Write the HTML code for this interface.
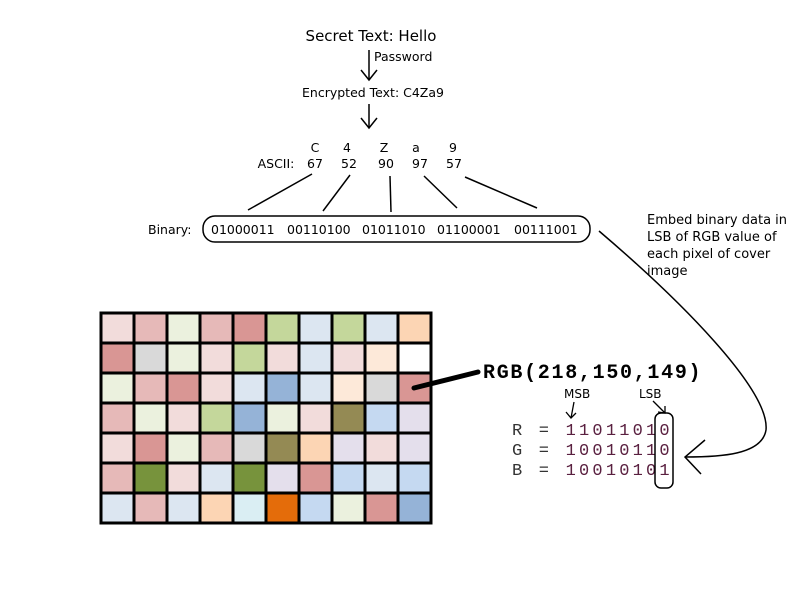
<!DOCTYPE html>
<html><head><style>body{margin:0;background:#fff}svg{display:block}</style></head><body>
<svg width="800" height="600" xmlns="http://www.w3.org/2000/svg" font-family="'DejaVu Sans',sans-serif">
<text x="371" y="41" font-size="15" text-anchor="middle">Secret Text:  Hello</text>
<text x="374" y="61" font-size="12.5">Password</text>
<line x1="369" y1="50" x2="369" y2="80" stroke="#000" stroke-width="1.5"/>
<path d="M361,70 L369,80 L377,70" fill="none" stroke="#000" stroke-width="1.5"/>
<text x="373" y="97" font-size="12.5" text-anchor="middle">Encrypted Text: C4Za9</text>
<line x1="369" y1="104" x2="369" y2="128" stroke="#000" stroke-width="1.5"/>
<path d="M361,118 L369,128 L377,118" fill="none" stroke="#000" stroke-width="1.5"/>
<g font-size="12.5" text-anchor="middle">
<text x="315" y="152">C</text><text x="347" y="152">4</text><text x="384" y="152">Z</text><text x="416" y="152">a</text><text x="453" y="152">9</text>
<text x="276" y="168">ASCII:</text><text x="315" y="168">67</text><text x="349" y="168">52</text><text x="386" y="168">90</text><text x="420" y="168">97</text><text x="454" y="168">57</text>
</g>
<g stroke="#000" stroke-width="1.5">
<line x1="312" y1="174" x2="248" y2="210"/><line x1="350" y1="175" x2="323" y2="211"/><line x1="390" y1="176" x2="391" y2="212"/><line x1="424" y1="176" x2="457" y2="208"/><line x1="465" y1="177" x2="537" y2="208"/>
</g>
<rect x="203" y="216" width="387" height="26" rx="12" fill="none" stroke="#000" stroke-width="1.5"/>
<g font-size="12.5">
<text x="148" y="234">Binary:</text>
<text x="211" y="234">01000011</text><text x="287" y="234">00110100</text><text x="362" y="234">01011010</text><text x="437" y="234">01100001</text><text x="514" y="234">00111001</text>
</g>
<g font-size="13"><text x="647" y="224">Embed binary data in</text><text x="647" y="241">LSB of RGB value of</text><text x="647" y="258">each pixel of cover</text><text x="647" y="275">image</text></g>
<path d="M599,231 C680,300 770,390 766,430 C762,455 720,457 685,457" fill="none" stroke="#000" stroke-width="1.5"/>
<path d="M705,440 L685,457 L701,474" fill="none" stroke="#000" stroke-width="1.5"/>
<g stroke="#000" stroke-width="3">
<rect x="101" y="313" width="33" height="30" fill="#f2dcdb"/><rect x="134" y="313" width="33" height="30" fill="#e6b9b8"/><rect x="167" y="313" width="33" height="30" fill="#ebf1de"/><rect x="200" y="313" width="33" height="30" fill="#e6b9b8"/><rect x="233" y="313" width="33" height="30" fill="#d99694"/><rect x="266" y="313" width="33" height="30" fill="#c4d79b"/><rect x="299" y="313" width="33" height="30" fill="#dce6f1"/><rect x="332" y="313" width="33" height="30" fill="#c4d79b"/><rect x="365" y="313" width="33" height="30" fill="#dce6f1"/><rect x="398" y="313" width="33" height="30" fill="#fcd5b4"/>
<rect x="101" y="343" width="33" height="30" fill="#d99694"/><rect x="134" y="343" width="33" height="30" fill="#d9d9d9"/><rect x="167" y="343" width="33" height="30" fill="#ebf1de"/><rect x="200" y="343" width="33" height="30" fill="#f2dcdb"/><rect x="233" y="343" width="33" height="30" fill="#c4d79b"/><rect x="266" y="343" width="33" height="30" fill="#f2dcdb"/><rect x="299" y="343" width="33" height="30" fill="#dce6f1"/><rect x="332" y="343" width="33" height="30" fill="#f2dcdb"/><rect x="365" y="343" width="33" height="30" fill="#fde9d9"/><rect x="398" y="343" width="33" height="30" fill="#ffffff"/>
<rect x="101" y="373" width="33" height="30" fill="#ebf1de"/><rect x="134" y="373" width="33" height="30" fill="#e6b9b8"/><rect x="167" y="373" width="33" height="30" fill="#d99694"/><rect x="200" y="373" width="33" height="30" fill="#f2dcdb"/><rect x="233" y="373" width="33" height="30" fill="#dce6f1"/><rect x="266" y="373" width="33" height="30" fill="#95b3d7"/><rect x="299" y="373" width="33" height="30" fill="#dce6f1"/><rect x="332" y="373" width="33" height="30" fill="#fde9d9"/><rect x="365" y="373" width="33" height="30" fill="#d9d9d9"/><rect x="398" y="373" width="33" height="30" fill="#d99694"/>
<rect x="101" y="403" width="33" height="30" fill="#e6b9b8"/><rect x="134" y="403" width="33" height="30" fill="#ebf1de"/><rect x="167" y="403" width="33" height="30" fill="#f2dcdb"/><rect x="200" y="403" width="33" height="30" fill="#c4d79b"/><rect x="233" y="403" width="33" height="30" fill="#95b3d7"/><rect x="266" y="403" width="33" height="30" fill="#ebf1de"/><rect x="299" y="403" width="33" height="30" fill="#f2dcdb"/><rect x="332" y="403" width="33" height="30" fill="#948a54"/><rect x="365" y="403" width="33" height="30" fill="#c5d9f1"/><rect x="398" y="403" width="33" height="30" fill="#e4dfec"/>
<rect x="101" y="433" width="33" height="30" fill="#f2dcdb"/><rect x="134" y="433" width="33" height="30" fill="#d99694"/><rect x="167" y="433" width="33" height="30" fill="#ebf1de"/><rect x="200" y="433" width="33" height="30" fill="#e6b9b8"/><rect x="233" y="433" width="33" height="30" fill="#d9d9d9"/><rect x="266" y="433" width="33" height="30" fill="#948a54"/><rect x="299" y="433" width="33" height="30" fill="#fcd5b4"/><rect x="332" y="433" width="33" height="30" fill="#e4dfec"/><rect x="365" y="433" width="33" height="30" fill="#f2dcdb"/><rect x="398" y="433" width="33" height="30" fill="#e4dfec"/>
<rect x="101" y="463" width="33" height="30" fill="#e6b9b8"/><rect x="134" y="463" width="33" height="30" fill="#77933c"/><rect x="167" y="463" width="33" height="30" fill="#f2dcdb"/><rect x="200" y="463" width="33" height="30" fill="#dce6f1"/><rect x="233" y="463" width="33" height="30" fill="#77933c"/><rect x="266" y="463" width="33" height="30" fill="#e4dfec"/><rect x="299" y="463" width="33" height="30" fill="#d99694"/><rect x="332" y="463" width="33" height="30" fill="#c5d9f1"/><rect x="365" y="463" width="33" height="30" fill="#dce6f1"/><rect x="398" y="463" width="33" height="30" fill="#c5d9f1"/>
<rect x="101" y="493" width="33" height="30" fill="#dce6f1"/><rect x="134" y="493" width="33" height="30" fill="#e6b9b8"/><rect x="167" y="493" width="33" height="30" fill="#dce6f1"/><rect x="200" y="493" width="33" height="30" fill="#fcd5b4"/><rect x="233" y="493" width="33" height="30" fill="#daeef3"/><rect x="266" y="493" width="33" height="30" fill="#e46c0a"/><rect x="299" y="493" width="33" height="30" fill="#c5d9f1"/><rect x="332" y="493" width="33" height="30" fill="#ebf1de"/><rect x="365" y="493" width="33" height="30" fill="#d99694"/><rect x="398" y="493" width="33" height="30" fill="#95b3d7"/>
</g>
<line x1="414" y1="388" x2="478" y2="372" stroke="#000" stroke-width="5" stroke-linecap="round"/>
<text x="483" y="378" font-family="'Liberation Mono',monospace" font-weight="bold" font-size="20" letter-spacing="1.7">RGB(218,150,149)</text>
<text x="564" y="398" font-size="12">MSB</text><text x="639" y="398" font-size="12">LSB</text>
<line x1="574" y1="402" x2="571" y2="418" stroke="#000" stroke-width="1.3"/><path d="M566,412 L571,418 L576,413" fill="none" stroke="#000" stroke-width="1.3"/>
<line x1="653" y1="401" x2="665" y2="413" stroke="#000" stroke-width="1.3"/><path d="M658,412 L665,413 L665,406" fill="none" stroke="#000" stroke-width="1.3"/>
<g font-family="'Liberation Mono',monospace" font-size="17" letter-spacing="3.2" fill="#5a2040">
<text x="512" y="435"><tspan fill="#333">R = </tspan>11011010</text>
<text x="512" y="455"><tspan fill="#333">G = </tspan>10010110</text>
<text x="512" y="475"><tspan fill="#333">B = </tspan>10010101</text>
</g>
<rect x="655" y="413" width="18" height="75" rx="6" fill="none" stroke="#000" stroke-width="1.5"/>
</svg>
</body></html>
